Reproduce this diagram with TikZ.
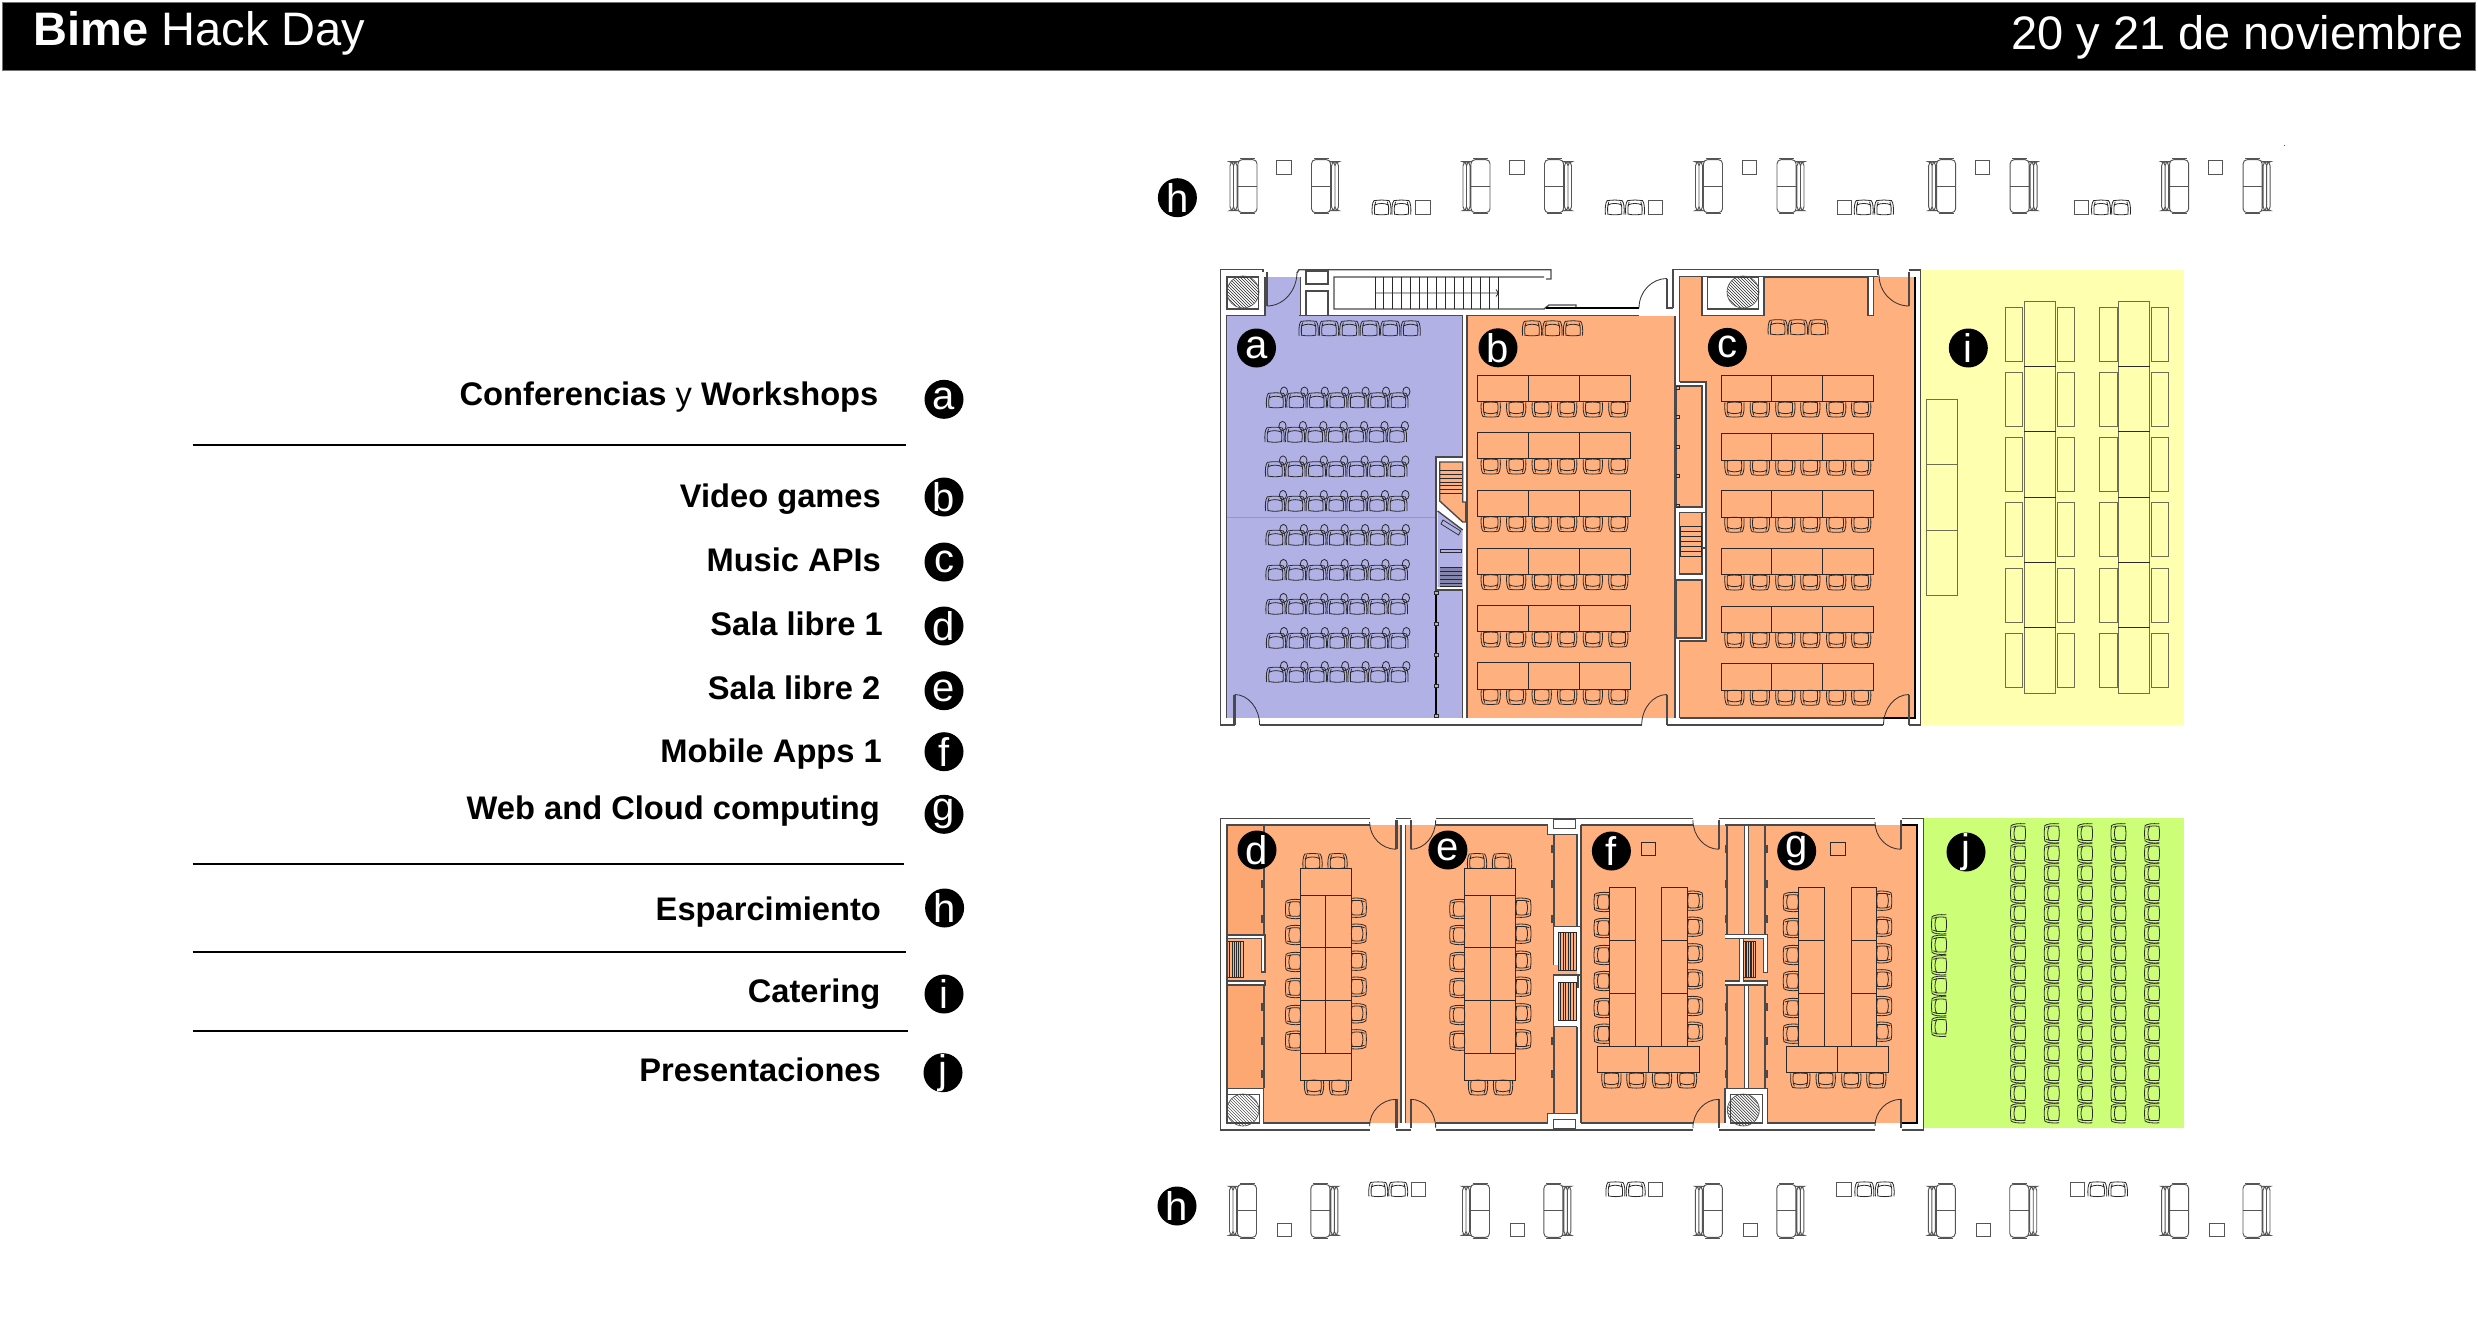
\documentclass[tikz,border=0pt]{standalone}
\usepackage{fontspec}
\setmainfont{Liberation Sans}
\definecolor{roomA}{HTML}{B1B1E5}
\definecolor{roomB}{HTML}{FFB07E}
\definecolor{roomBd}{HTML}{FDA873}
\definecolor{roomY}{HTML}{FFFFB0}
\definecolor{roomG}{HTML}{CCFF77}
\definecolor{wallc}{HTML}{4A4A4A}
\definecolor{furn}{HTML}{2A2A2A}
\definecolor{sofac}{HTML}{555555}
\definecolor{ytab}{HTML}{6E6E55}
\newcommand\chairshape{%
  \draw[furn,line width=0.24pt]
      (-9.5,-7) .. controls (-10,0) and (-9.5,5) .. (-7.5,7.5)
      (9.5,-7) .. controls (10,0) and (9.5,5) .. (7.5,7.5)
      (-7,-7) .. controls (-7.5,-1) and (-7.5,2) .. (-6,6)
      (7,-7) .. controls (7.5,-1) and (7.5,2) .. (6,6)
      (-7.5,2.5) .. controls (-3,5) and (3,5) .. (7.5,2.5)
      (-7.5,7.2) .. controls (-2,8) and (2,8) .. (7.5,7.2)
      (-7.5,-6.5) .. controls (-2,-7.5) and (2,-7.5) .. (7.5,-6.5);}
\tikzset{
  wl/.style={draw=wallc,line width=0.42pt},
  wlb/.style={draw=black,line width=0.5pt},
  leaf/.style={draw=wallc,line width=0.7pt},
  arcl/.style={draw=black!80,line width=0.25pt},
  tbl/.style={draw=furn,line width=0.3pt},
  ytb/.style={draw=ytab,line width=0.3pt},
  thn/.style={draw=furn,line width=0.22pt},
  legend/.style={anchor=base east,font=\fontsize{9.8pt}{11pt}\selectfont\bfseries,inner sep=0pt,text=black},
  badge/.style={circle,fill=black,text=white,minimum size=11.7pt,inner sep=0pt,font=\fontsize{12pt}{12pt}\selectfont},
  rulel/.style={draw=black,line width=0.6pt},
  chair/.pic={\chairshape},
  achair/.pic={
    \begin{scope}[yscale=-1]\chairshape\end{scope}
    \draw[furn,line width=0.24pt] (8,-9) ellipse [x radius=3.6,y radius=4.6];
  },
  sofa/.pic={
    \draw[sofac,line width=0.28pt,rounded corners=1.2pt]
      (8,1) rectangle (27,54)
      (0,3) rectangle (3.5,52)
      (3.5,3) rectangle (7,52);
    \draw[sofac,line width=0.28pt] (8,27.5) -- (27,27.5) (10,0) -- (25,0) (10,55) -- (25,55);
  }
}
\newcommand\doorarc[4]{\draw[arcl] (#1,#2) .. controls ({#1+.55*(#3-#1)},#2) and (#3,{#4+.55*(#2-#4)}) .. (#3,#4);}
\newcommand\hatchcirc[2]{%
  \begin{scope}
    \clip (#1,#2) circle[radius=16];
    \foreach \d in {-33,-30,...,33} {\draw[black!85,line width=0.14pt] ({#1+\d-20},{#2-20}) -- ({#1+\d+20},{#2+20});}
  \end{scope}
  \draw[sofac,line width=0.2pt] (#1,#2) circle[radius=16];}
\newcommand\jag[4]{%
  \draw[wl] (#1,#2) -- (#1,#3);
  \foreach \k in {845,880,915,1003,1037,1070} {
    \ifdim\k pt>#2pt\ifdim\k pt<#3pt
      \fill[wallc] (#1,\k) rectangle ({#1+#4},{\k+8});
    \fi\fi}}
\newcommand\stairsH[4]{% x0 x1 y0 y1 horizontal treads
  \fill[roomB] (#1,#3) rectangle (#2,#4);
  \foreach \s in {0,0.1667,...,1.01} {\draw[furn,line width=0.22pt] (#1,{#3+\s*(#4-#3)}) -- (#2,{#3+\s*(#4-#3)});}
  \draw[thn] (#1,#3) rectangle (#2,#4);}
\newcommand\stairsV[4]{% x0 x1 y0 y1 vertical treads
  \fill[roomB] (#1,#3) rectangle (#2,#4);
  \foreach \s in {0,0.143,...,1.01} {\draw[furn,line width=0.22pt] ({#1+\s*(#2-#1)},#3) -- ({#1+\s*(#2-#1)},#4);}
  \draw[thn] (#1,#3) rectangle (#2,#4);}
\begin{document}
\begin{tikzpicture}[x=0.3pt,y=-0.3pt]
\useasboundingbox (0,0) rectangle (2478,1342);
\fill[white] (0,0) rectangle (2478,1342);
%% header
\draw[fill=black,draw=black!55,line width=0.3pt] (2,2.5) rectangle (2475,70.5);
\node[anchor=base west,inner sep=0pt,text=white,font=\fontsize{14.1pt}{16pt}\selectfont] (title) at (33,45.7) {\textbf{Bime} Hack Day};
\node[anchor=base east,inner sep=0pt,text=white,font=\fontsize{14.1pt}{16pt}\selectfont] (dates) at (2464,50) {20 y 21 de noviembre};
%% legend
\node[legend] (la) at (879,405.7) {Conferencias \mdseries y \bfseries Workshops};
\node[legend] (lb) at (881.5,507) {Video games};
\node[legend] (lc) at (881.5,571) {Music APIs};
\node[legend] (ld) at (883.5,635) {Sala libre 1};
\node[legend] (le) at (881,699.5) {Sala libre 2};
\node[legend] (lf) at (882.5,762.3) {Mobile Apps 1};
\node[legend] (lg) at (880.5,819.3) {Web and Cloud computing};
\node[legend] (lh) at (881.5,920) {Esparcimiento};
\node[legend] (li) at (881,1002.7) {Catering};
\node[legend] (lj) at (881.5,1081.7) {Presentaciones};
\draw[rulel] (192.5,445) -- (906,445);
\draw[rulel] (192.5,864.3) -- (904,864.3);
\draw[rulel] (192.5,952.3) -- (905.6,952.3);
\draw[rulel] (192.5,1031) -- (907.7,1031);
\node[badge] (ka) at (944,399.3) {a};
\node[badge] (kb) at (944,497) {b};
\node[badge] (kc) at (944,562) {c};
\node[badge] (kd) at (944,626) {d};
\node[badge] (ke) at (944,690.7) {e};
\node[badge] (kf) at (944,751.7) {f};
\node[badge] (kg) at (944,814.3) {g};
\node[badge] (kh) at (944.6,908) {h};
\node[badge] (ki) at (944,994) {i};
\node[badge] (kj) at (943,1072.7) {j};

%% ---------- sofas top
\foreach \x in {1230,1463,1695.5,1928.6,2161.6} {
  \pic at (\x,158.7) {sofa};
  \pic[xscale=-1] at ({\x+108.5},158.7) {sofa};
  \draw[sofac,line width=0.24pt] ({\x+46.4},160.6) rectangle ({\x+60.9},174.8);
}
\foreach \a/\b/\c in {1381.5/1401.4/1415.7,1614.7/1635/1648.5,1863.7/1884/1837,2101/2121/2074} {
  \pic[rotate=180,scale=0.98] at (\a,207.7) {chair};
  \pic[rotate=180,scale=0.98] at (\b,207.7) {chair};
  \draw[sofac,line width=0.24pt] (\c,200.4) rectangle ({\c+14.3},214.6);
}
\fill[sofac] (2284,145) rectangle (2285,146);
%% ---------- sofas bottom
\foreach \x in {1229.5,1462.5,1695.4,1928.3,2161.6} {
  \pic at (\x,1183.3) {sofa};
  \pic[xscale=-1] at ({\x+108.4},1183.3) {sofa};
  \draw[sofac,line width=0.24pt] ({\x+48},1223) rectangle ({\x+62.3},1236.5);
}
\foreach \a/\b/\c in {1378.2/1398.2/1411.4,1615.4/1635.7/1648.2,1864.3/1884.7/1836.7,2097.3/2118/2070} {
  \pic[rotate=180,scale=0.98] at (\a,1189.5) {chair};
  \pic[rotate=180,scale=0.98] at (\b,1189.5) {chair};
  \draw[sofac,line width=0.24pt] (\c,1182.7) rectangle ({\c+14.3},1196.7);
}

%% ---------- upper plan fills
\fill[roomY] (1921.4,269.7) rectangle (2183.5,725);
\fill[roomA] (1226.7,315.3) rectangle (1462.7,718);
\fill[roomA] (1265,277.3) rectangle (1300.7,316);
\fill[roomB] (1467,315.6) rectangle (1675,718);
\fill[roomB] (1679.5,276.6) rectangle (1914.7,718);
\draw[roomA!85!black,line width=0.3pt] (1227,517) -- (1436,517);

%% top-left core
\draw[wl] (1220.3,725) -- (1220.3,269.7) -- (1263,269.7) -- (1263,272);
\draw[wl] (1226.7,718) -- (1226.7,315.3) -- (1265,315.3) -- (1265,277);
\draw[wl] (1300.7,277) -- (1300.7,315.3);
\draw[wl,fill=white] (1227,277) rectangle (1258.6,309);
\hatchcirc{1243}{292}
\draw[leaf] (1267,272) -- (1267,306);
\doorarc{1267}{306}{1297}{272}
%% stair block
\draw[wl] (1297,273) -- (1299,269.7) -- (1551,269.7) -- (1551,279) -- (1546,279);
\draw[wl] (1306,271) rectangle (1328,284);
\draw[wl] (1306,291) rectangle (1328,315.3);
\draw[wl] (1544,277) -- (1334,277) -- (1334,309) -- (1544,309) -- (1549,305) -- (1576,305) -- (1576,308);
\draw[wlb] (1546,308) -- (1639,308);
\draw[wl] (1299,315.3) -- (1639,315.3);
\foreach \x in {1375,1383.8,...,1499} {\draw[furn,line width=0.3pt] (\x,277) -- (\x,309);}
\draw[furn,line width=0.25pt] (1375,293) -- (1498,293) (1496,289.5) -- (1498.5,293) -- (1496,296.5);
\draw[leaf] (1667,278.5) -- (1667,308) -- (1672.8,308);
\doorarc{1667}{278.5}{1639}{308}

%% c core + top wall
\draw[wl] (1672.8,308) -- (1672.8,269.7) -- (1878,269.7) -- (1878,275);
\draw[wl] (1679.5,382) -- (1679.5,276.6) -- (1878,276.6);
\fill[white] (1702,276.6) rectangle (1873.5,315.6);
\draw[wl] (1702,276.6) -- (1702,315.6) -- (1873.5,315.6) -- (1873.5,276.6);
\fill[roomB] (1764,277) rectangle (1868,315.6);
\draw[wl] (1764,315.6) -- (1764,277) -- (1868,277) -- (1868,315.6);
\draw[wl,fill=white] (1707.6,277) rectangle (1758.5,309);
\hatchcirc{1743}{292}
\draw[leaf] (1909,271.6) -- (1909,306);
\doorarc{1909}{306}{1879}{275}
\draw[wl] (1909,270) -- (1920.5,270) -- (1920.5,725) -- (1909,725);
\draw[wlb] (1914.7,276.6) -- (1914.7,718) -- (1883,718);

%% bump between b and c
\fill[white] (1675,382) rectangle (1706,641);
\draw[wl] (1679.5,382) -- (1706,382) -- (1706,641) -- (1679.5,641) -- (1679.5,718);
\draw[wl,fill=roomB] (1676,386) rectangle (1702,507);
\draw[wl,fill=roomB] (1676,580) rectangle (1702,638);
\draw[wl,fill=roomB] (1679.5,512.7) rectangle (1702,574);
\stairsH{1680}{1701}{526}{556}
\draw[wl] (1702,512.7) -- (1706,512.7) -- (1706,548) -- (1702,548);
\foreach \y in {388,417,447,476,506} {\draw[furn,line width=0.25pt] (1675.5,{\y-1.7}) rectangle (1679,{\y+1.7});}
\draw[wl] (1675,315.6) -- (1675,718);

%% bump a/b
\fill[white] (1462.7,315.3) rectangle (1467,718);
\fill[white] (1436,457) rectangle (1467,590);
\draw[wl] (1462.7,315.3) -- (1462.7,457) -- (1436,457) -- (1436,590) -- (1462.7,590);
\draw[wl] (1467,315.3) -- (1467,718);
\draw[wl] (1462.7,591) -- (1462.7,718);
\draw[wlb] (1436,591) -- (1436,718);
\foreach \y in {593,624,655,686,716} {\draw[furn,line width=0.25pt,fill=roomA] (1434.5,{\y-1.7}) rectangle (1438,{\y+1.7});}
\draw[wl,fill=roomB] (1439.7,462) -- (1462.7,462) -- (1462.7,502) -- (1465.7,502) -- (1465.7,522) -- (1462.7,522) -- (1439.7,501) -- cycle;
\foreach \y in {470.6,474.4,478.2,482,485.8,489.6,493.6} {\draw[furn,line width=0.25pt] (1440,\y) -- (1462,\y);}
\fill[roomA] (1437.6,511) -- (1462.7,530) -- (1462.7,587) -- (1437.6,587) -- cycle;
\draw[wl] (1437.6,511) -- (1462.7,530);
\draw[thn] (1441,524) -- (1443,520) -- (1460.6,531) -- (1458.6,535) -- cycle;
\draw[thn] (1440,549) rectangle (1461.7,552);
\fill[roomA!75!black] (1440,567) rectangle (1461.7,586);
\foreach \y in {567,571,575,579,583,586} {\draw[furn,line width=0.2pt] (1440,\y) -- (1461.7,\y);}

%% bottom walls upper plan
\draw[wl] (1220.3,725) -- (1234.6,725);
\draw[leaf] (1234.6,694.5) -- (1234.6,725);
\doorarc{1234.6}{694.5}{1259.6}{725}
\draw[wl] (1259.6,725) -- (1642,725);
\draw[leaf] (1667,694.5) -- (1667,725);
\doorarc{1667}{694.5}{1641.7}{725}
\draw[wl] (1667,725) -- (1882.6,725);
\draw[wl] (1679.5,718) -- (1883,718);
\draw[leaf] (1909,694.5) -- (1909,725);
\doorarc{1909}{694.5}{1883.5}{725}

%% a chairs
\foreach \y/\o in {400.6/0,435/-1.5,469.5/-1,504/-1,538/-0.5,573/-0.5,607/-0.5,641/0,675/0} {
  \foreach \i in {0,...,6} {\pic at ({1276+\o+20.4*\i},\y) {achair};}
}
\foreach \i in {0,...,5} {\pic[rotate=180] at ({1308.6+20.4*\i},328.6) {chair};}
\foreach \x in {1532,1552.4,1573} {\pic[rotate=180] at (\x,328.6) {chair};}
\foreach \x in {1777.7,1797.8,1818.3} {\pic[rotate=180] at (\x,327.5) {chair};}
%% b tables
\foreach \y in {375.3,432.3,490,548,605.3,662.7} {
  \draw[tbl] (1477.5,\y) rectangle (1630,{\y+26.4}) (1528.5,\y) -- (1528.5,{\y+26.4}) (1579.5,\y) -- (1579.5,{\y+26.4});
  \foreach \x in {1490.7,1516.2,1541.7,1567.2,1592.8,1618.3} {\pic at (\x,{\y+34}) {chair};}
}
%% c tables
\foreach \y in {375.3,433.5,490.5,548.3,606,663.5} {
  \draw[tbl] (1721,\y) rectangle (1873.7,{\y+26.6}) (1771.9,\y) -- (1771.9,{\y+26.6}) (1822.8,\y) -- (1822.8,{\y+26.6});
  \foreach \x in {1734.4,1759.8,1785.3,1810.3,1836.2,1861.2} {\pic at (\x,{\y+34}) {chair};}
}
%% catering
\draw[ytb] (1926.3,399.4) rectangle (1957.6,595.4) (1926.3,464.5) -- (1957.6,464.5) (1926.3,530) -- (1957.6,530);
\foreach \c/\s/\t in {2024/2005/2057,2118.3/2099.6/2151.3} {
  \draw[ytb] (\c,301) rectangle ({\c+31.5},693.3);
  \foreach \y in {366.5,431.6,497,562.5,627.5} {\draw[tbl] (\c,\y) -- ({\c+31.5},\y);}
  \foreach \y in {307.2,372.3,437.3,502.8,568.6,633.6} {
    \draw[ytb] (\s,\y) rectangle ({\s+17.5},{\y+54});
    \draw[ytb] (\t,\y) rectangle ({\t+17.5},{\y+54});
  }
}

%% ---------- lower plan fills
\fill[roomG] (1924,817.7) rectangle (2184,1127.7);
\fill[roomB] (1226.8,825) rectangle (1401,1123);
\fill[roomBd] (1226.8,825) rectangle (1262,935);
\fill[roomBd] (1226.8,985) rectangle (1262,1088);
\fill[roomB] (1405.4,825) rectangle (1576.8,1123);
\fill[roomB] (1581,825) rectangle (1916.7,1123);
%% e service white steps
\fill[white] (1547.5,824) rectangle (1577,834.3);
\fill[white] (1547.5,1113.3) rectangle (1577,1124);
\draw[wl] (1547.5,825) -- (1547.5,834.3) -- (1576.8,834.3) -- (1576.8,926.7);
\draw[wl] (1547.5,1123) -- (1547.5,1113.3) -- (1576.8,1113.3) -- (1576.8,1026.7);
\draw[wl,fill=white] (1553.6,819.3) rectangle (1575.7,828.3);
\draw[wl,fill=white] (1553.6,1119.3) rectangle (1575.7,1128.3);
%% e stairs frame
\fill[white] (1553.6,926.7) rectangle (1578,932);
\fill[white] (1553.6,926.7) rectangle (1557.5,965);
\fill[white] (1553.6,975) rectangle (1578,982);
\fill[white] (1553.6,975) rectangle (1557.5,1026.7);
\fill[white] (1553.6,1021) rectangle (1578,1026.7);
\draw[wl] (1553.6,965) -- (1553.6,926.7) -- (1577,926.7);
\draw[wl] (1553.6,1026.7) -- (1553.6,975) -- (1578,975) -- (1578,988);
\draw[wl] (1553.6,1026.7) -- (1577,1026.7);
\stairsV{1557.9}{1576}{932.3}{970.7}
\stairsV{1557.9}{1576}{982.3}{1020.7}
\jag{1554}{834.3}{926.7}{-3}
\jag{1554}{1026.7}{1113.3}{-3}
%% d left: jag, stairs, lift
\jag{1264}{825}{935}{-3}
\jag{1264}{985}{1088.3}{-3}
\fill[white] (1226.8,935) rectangle (1265,938.3);
\fill[white] (1261.5,935) rectangle (1265,972);
\fill[white] (1226.8,981) rectangle (1265,985);
\draw[wl] (1226.8,935) -- (1265,935) -- (1265,972) -- (1261.5,972) -- (1261.5,938.3) -- (1226.8,938.3);
\draw[wl] (1226.8,981) -- (1265,981) -- (1265,985) -- (1226.8,985);
\stairsV{1227.5}{1242.9}{941.3}{977.7}
\fill[white] (1226.8,1088.3) rectangle (1263.6,1123);
\draw[wl] (1226.8,1088.3) -- (1263.6,1088.3) -- (1263.6,1123) -- (1369.6,1123);
\draw[wl] (1226.8,1094.3) rectangle (1259.6,1123);
\hatchcirc{1242.9}{1110}
%% f/g service
\fill[white] (1744.3,825) rectangle (1748.3,934.3);
\fill[white] (1744.3,985) rectangle (1748.3,1088.3);
\draw[wl] (1744.3,825) -- (1744.3,934.3) (1748.3,825) -- (1748.3,934.3);
\draw[wl] (1744.3,985) -- (1744.3,1088.3) (1748.3,985) -- (1748.3,1088.3);
\fill[white] (1725,934.3) rectangle (1767.7,938.3);
\fill[white] (1725,981) rectangle (1767.7,985);
\fill[white] (1739.3,938) rectangle (1743.3,981);
\fill[white] (1763.3,938) rectangle (1767.7,972.3);
\draw[wl] (1725,934.3) -- (1767.7,934.3) -- (1767.7,972.3) -- (1763.3,972.3) -- (1763.3,938.3) -- (1725,938.3);
\draw[wl] (1725,981) -- (1739.3,981) -- (1739.3,938.3) (1743.3,938.3) -- (1743.3,981) -- (1767.7,981) -- (1767.7,985) -- (1725,985);
\stairsV{1743.5}{1755}{941.3}{977.7}
\jag{1727}{825}{934.3}{-2.5}
\jag{1727}{985}{1088.3}{-2.5}
\jag{1765}{825}{934.3}{2.5}
\jag{1765}{985}{1088.3}{2.5}
\fill[white] (1725,1088.3) rectangle (1767.7,1123);
\draw[wl] (1725,1123) -- (1725,1088.3) -- (1767.7,1088.3) -- (1767.7,1123) -- (1875,1123);
\draw[wl] (1730.7,1094.3) rectangle (1762.3,1123);
\hatchcirc{1743.3}{1110}
%% walls lower plan
\draw[wl] (1369.6,818.3) -- (1220.4,818.3) -- (1220.4,1130) -- (1369.6,1130);
\draw[wl] (1369.6,825) -- (1226.8,825) -- (1226.8,1123);
\draw[leaf] (1396.4,820) -- (1396.4,849.3);
\doorarc{1396.4}{849.3}{1369.6}{822}
\draw[leaf] (1396.4,1099.3) -- (1396.4,1128);
\doorarc{1396.4}{1099.3}{1369.6}{1126}
\fill[white] (1401,825) rectangle (1405.4,1123);
\draw[wl] (1401,825) -- (1401,1123) (1405.4,825) -- (1405.4,1123);
\draw[wl] (1396.4,818.3) -- (1410.7,818.3) (1396.4,1130) -- (1410.7,1130);
\draw[leaf] (1410.7,820) -- (1410.7,849.3);
\doorarc{1410.7}{849.3}{1435.7}{820}
\draw[leaf] (1410.7,1099.3) -- (1410.7,1128);
\doorarc{1410.7}{1099.3}{1435.7}{1128}
\draw[wl] (1435.7,818.3) -- (1692.9,818.3) (1435.7,1130) -- (1692.9,1130);
\draw[wl] (1435.7,825) -- (1547.5,825) (1581,825) -- (1692.9,825) (1435.7,1123) -- (1547.5,1123) (1581,1123) -- (1692.9,1123);
\draw[wl] (1581,825) -- (1581,1123);
\draw[wl] (1576.8,926.7) -- (1581,926.7) (1578,975) -- (1581,975);
\draw[leaf] (1719,820) -- (1719,849.3);
\doorarc{1719}{849.3}{1692.9}{820}
\draw[leaf] (1719,1099.3) -- (1719,1128);
\doorarc{1719}{1099.3}{1692.9}{1128}
\draw[wl] (1719.3,818.3) -- (1875,818.3) (1719.3,1130) -- (1875,1130);
\draw[wl] (1725,825) -- (1875,825);
\draw[leaf] (1901,820) -- (1901,849.3);
\doorarc{1901}{849.3}{1875}{822}
\draw[leaf] (1901,1099.3) -- (1901,1128);
\doorarc{1901}{1099.3}{1875}{1126}
\draw[wl] (1901.7,818.3) -- (1923.3,818.3) -- (1923.3,1130) -- (1901.7,1130);
\draw[wlb] (1901.7,825) -- (1916.7,825) -- (1916.7,1123) -- (1901.7,1123);
%% d and e conference tables
\foreach \l/\m/\r/\cl/\cr/\ta/\tb/\ba/\bb in {1300.4/1325.7/1351.8/1293.2/1358.6/1312.5/1337.5/1314/1339,1464.6/1490.4/1515.7/1457.5/1523.2/1477/1502/1478/1503} {
  \draw[tbl] (\l,868.3) rectangle (\r,1080) (\l,895) -- (\r,895) (\l,947.7) -- (\r,947.7) (\l,1000.3) -- (\r,1000.3) (\l,1053.3) -- (\r,1053.3) (\m,895) -- (\m,1053.3);
  \pic[rotate=180] at (\ta,861.3) {chair}; \pic[rotate=180] at (\tb,861.3) {chair};
  \pic at (\ba,1087.3) {chair}; \pic at (\bb,1087.3) {chair};
  \foreach \y in {909,935,962,988,1015,1040.7} {\pic[rotate=-90] at (\cl,\y) {chair};}
  \foreach \y in {907.7,933.7,960.7,986.7,1013.3,1039.3} {\pic[rotate=90] at (\cr,\y) {chair};}
}
%% f and g U tables
\foreach \la/\lb/\ra/\rb/\ba/\bb/\bm/\cl/\cr/\ca/\cb/\cc/\cd in {1609.3/1635/1661.8/1687.5/1597.5/1699.3/1648.2/1601.8/1695/1611.4/1636.4/1662/1687,1798.7/1824/1851/1876.7/1786.7/1888.7/1837.7/1791/1884/1800.3/1825.7/1851.3/1876.3} {
  \draw[tbl] (\la,887.7) rectangle (\lb,1046.7) (\la,940.7) -- (\lb,940.7) (\la,993.7) -- (\lb,993.7);
  \draw[tbl] (\ra,887.7) rectangle (\rb,1046.7) (\ra,940.7) -- (\rb,940.7) (\ra,993.7) -- (\rb,993.7);
  \draw[tbl] (\ba,1046.7) rectangle (\bb,1072.7) (\bm,1046.7) -- (\bm,1072.7);
  \foreach \x in {\ca,\cb,\cc,\cd} {\pic at (\x,1080.3) {chair};}
  \foreach \y in {902,928,955,981,1008,1033.7} {\pic[rotate=-90] at (\cl,\y) {chair};}
  \foreach \y in {900.7,926.7,953.3,979.3,1006,1031.7} {\pic[rotate=90] at (\cr,\y) {chair};}
}
\draw[tbl] (1641.4,842.3) rectangle (1655.7,855.3);
\draw[tbl] (1830.7,842.3) rectangle (1845,855.3);
%% presentation chairs
\foreach \x in {2018.3,2052,2085.3,2118.7,2152.3} {
  \foreach \i in {0,...,14} {\pic[rotate=-90] at (\x,{833.3+20*\i}) {chair};}
}
\foreach \i in {0,...,5} {\pic[rotate=-90] at (1939.3,{924.3+20.5*\i}) {chair};}
%% badges on the plans
\node[badge] (pa) at (1256.5,348) {a};
\node[badge] (pb) at (1498,347.8) {b};
\node[badge] (pc) at (1727.4,347.4) {c};
\node[badge] (pi) at (1968.3,348) {i};
\node[badge] (pd) at (1257,850) {d};
\node[badge] (pe) at (1447.9,850) {e};
\node[badge] (pf) at (1611.4,851) {f};
\node[badge] (pg) at (1796.7,851) {g};
\node[badge] (pj) at (1966,852) {j};
\node[badge] (ph1) at (1177.4,197.7) {h};
\node[badge] (ph2) at (1177,1206) {h};
\end{tikzpicture}
\end{document}
